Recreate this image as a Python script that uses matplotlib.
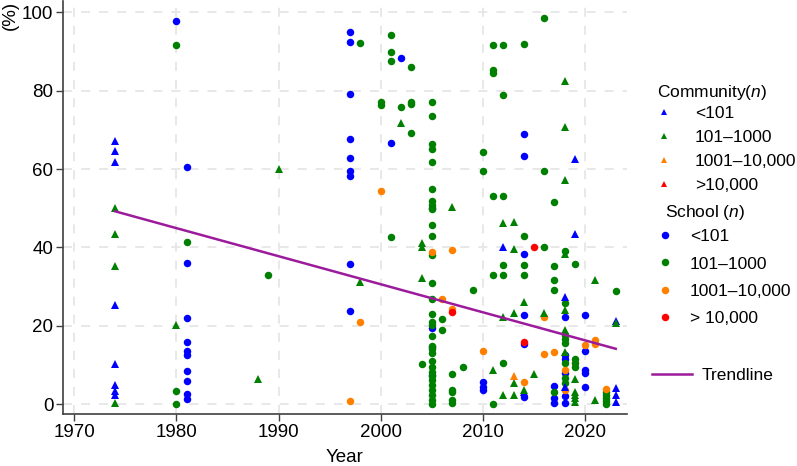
import matplotlib
matplotlib.use("Agg")
import matplotlib.pyplot as plt
from matplotlib.lines import Line2D

plt.rcParams['font.family'] = ['Liberation Sans', 'DejaVu Sans']
plt.rcParams['mathtext.fontset'] = 'custom'
plt.rcParams['mathtext.rm'] = 'Liberation Sans'
plt.rcParams['mathtext.it'] = 'Liberation Sans:italic'

# community surveys (triangles)
comm_lt101_yr = [1974, 1974, 1974, 1974, 1974, 1974, 1974, 1974,
                 2012, 2014, 2018, 2018, 2019, 2019, 2023, 2023, 2023, 2023]
comm_lt101_val = [67.2, 64.7, 61.8, 25.3, 10.3, 4.8, 3.2, 2.3,
                  40.1, 3.0, 27.2, 4.4, 62.6, 43.4, 21.2, 4.2, 2.3, 0.4]

comm_101_yr = [1974, 1974, 1974, 1974, 1980, 1988, 1990, 1998, 2002,
               2004, 2004, 2004, 2007, 2011, 2012, 2012, 2012,
               2013, 2013, 2013, 2013, 2013, 2014, 2014, 2015, 2016,
               2018, 2018, 2018, 2018, 2018, 2018, 2018,
               2019, 2019, 2019, 2019, 2019, 2021, 2021, 2023]
comm_101_val = [50.0, 43.5, 35.3, 0.2, 20.1, 6.4, 60.1, 31.2, 71.7,
                41.2, 40.1, 32.1, 50.3, 8.6, 46.1, 22.1, 2.4,
                46.4, 39.5, 23.3, 5.3, 2.4, 26.1, 3.6, 7.6, 23.3,
                82.6, 70.8, 57.1, 38.3, 24.0, 19.0, 13.3,
                6.4, 3.1, 2.4, 1.5, 0.6, 31.6, 0.9, 20.8]

comm_1001_yr = [2013]
comm_1001_val = [7.2]

comm_10k_yr = []
comm_10k_val = []

# school surveys (circles)
sch_lt101_yr = [1980,
                1981, 1981, 1981, 1981, 1981, 1981, 1981, 1981, 1981, 1981,
                1997, 1997, 1997, 1997, 1997, 1997, 1997, 1997, 1997,
                2001, 2002, 2005, 2005, 2005, 2005, 2010, 2010, 2010,
                2014, 2014, 2014, 2014, 2014, 2014, 2017, 2017, 2017,
                2018, 2018, 2018, 2018, 2018, 2018,
                2020, 2020, 2020, 2020, 2020]
sch_lt101_val = [97.8,
                 60.5, 36.0, 22.0, 15.8, 13.5, 12.5, 8.5, 5.8, 2.5, 1.2,
                 95.0, 92.5, 79.2, 67.7, 62.8, 59.5, 58.3, 35.8, 23.8,
                 66.7, 88.4, 50.0, 19.5, 14.5, 7.5, 5.5, 4.4, 3.6,
                 68.9, 63.2, 38.2, 22.6, 15.2, 1.9, 4.6, 1.6, 0.2,
                 22.1, 12.5, 11.4, 7.8, 2.1, 0.2,
                 22.7, 13.5, 8.8, 8.0, 4.4]

sch_101_yr = [1980, 1980, 1980, 1981, 1989, 1998, 2000, 2000,
              2001, 2001, 2001, 2001, 2002, 2003, 2003, 2003, 2003, 2004,
              2005, 2005, 2005, 2005, 2005, 2005, 2005, 2005, 2005, 2005,
              2005, 2005, 2005, 2005, 2005, 2005, 2005, 2005, 2005, 2005,
              2005, 2005, 2005, 2005, 2005, 2005, 2005, 2005, 2005, 2005, 2005,
              2006, 2006, 2007, 2007, 2007, 2007, 2007, 2008, 2009,
              2010, 2010, 2011, 2011, 2011, 2011, 2011, 2011,
              2012, 2012, 2012, 2012, 2012, 2012, 2014, 2014, 2014, 2014,
              2016, 2016, 2016, 2017, 2017, 2017, 2017, 2017,
              2018, 2018, 2018, 2018, 2018, 2018, 2018, 2018,
              2019, 2019, 2019, 2019, 2022, 2022, 2022, 2022, 2022, 2023]
sch_101_val = [91.7, 3.3, 0.0, 41.3, 32.9, 92.3, 77.1, 76.3,
               94.1, 89.8, 87.5, 42.7, 75.9, 86.1, 77.2, 76.5, 69.3, 10.1,
               77.2, 73.5, 66.4, 65.1, 61.8, 54.8, 51.8, 50.8, 49.9, 45.7,
               42.8, 38.0, 30.8, 26.9, 23.1, 20.9, 20.3, 17.3, 14.9, 14.0,
               12.9, 10.9, 9.5, 8.2, 7.2, 6.1, 4.8, 3.6, 2.3, 1.0, 0.0,
               21.7, 19.0, 7.6, 3.7, 3.0, 1.0, 0.3, 9.4, 29.0,
               64.3, 59.5, 91.7, 85.2, 84.4, 53.1, 32.9, 0.1,
               91.7, 79.0, 53.1, 35.5, 32.9, 10.4, 92.0, 42.9, 35.5, 32.9,
               98.6, 59.6, 40.0, 51.6, 35.3, 31.6, 29.1, 3.0,
               39.1, 25.8, 17.6, 16.7, 15.5, 10.5, 6.6, 5.3,
               35.7, 11.4, 10.4, 9.4, 3.0, 2.2, 1.5, 0.7, 0.0, 28.8]

sch_1001_yr = [1997, 1998, 2000, 2005, 2006, 2007, 2007, 2010, 2014,
               2016, 2016, 2017, 2018, 2018, 2020, 2021, 2021, 2022]
sch_1001_val = [0.8, 20.9, 54.3, 38.9, 26.7, 39.3, 24.2, 13.5, 5.7,
                22.1, 12.8, 13.3, 8.8, 3.6, 15.0, 16.3, 15.3, 3.8]

sch_10k_yr = [2007, 2014, 2015]
sch_10k_val = [23.4, 15.8, 40.0]

trend_yr = [1974, 2023]
trend_val = [49.2, 14.1]

size_labels = ['<101', '101\u20131000', '1001\u201310,000', '>10,000']
school_labels = ['<101', '101\u20131000', '1001\u201310,000', '> 10,000']
colors = ['#0000ff', '#008000', '#ff8000', '#ff0000']
trend_color = '#9c1a9c'

W, H = 797, 466
fig = plt.figure(figsize=(W / 100, H / 100), dpi=100)
ax = fig.add_axes([63 / W, 1 - 414 / H, (627 - 63) / W, 413 / H])

comm_groups = [(comm_lt101_yr, comm_lt101_val), (comm_101_yr, comm_101_val),
               (comm_1001_yr, comm_1001_val), (comm_10k_yr, comm_10k_val)]
sch_groups = [(sch_lt101_yr, sch_lt101_val), (sch_101_yr, sch_101_val),
              (sch_1001_yr, sch_1001_val), (sch_10k_yr, sch_10k_val)]

for (yr, val), c in zip(sch_groups, colors):
    ax.plot(yr, val, ls='', marker='o', ms=5.4, color=c, mew=0, zorder=3)
for (yr, val), c in zip(comm_groups, colors):
    ax.plot(yr, val, ls='', marker='^', ms=5.2, color=c, mew=0, zorder=3)

ax.plot(trend_yr, trend_val, color=trend_color, lw=1.8, zorder=4)

ax.set_xlim(1968.9, 2024.1)
ax.set_ylim(-2.55, 102.9)
ax.set_xticks(range(1970, 2021, 10))
ax.set_yticks(range(0, 101, 20))
ax.grid(True, color='#e6e6e6', ls=(0, (5, 5)), lw=1.3)
ax.set_axisbelow(True)
for s in ['top', 'right']:
    ax.spines[s].set_visible(False)
for s in ['left', 'bottom']:
    ax.spines[s].set_color('#404040')
    ax.spines[s].set_linewidth(1.2)
ax.tick_params(labelsize=13.5, length=5, width=1, color='#404040', pad=2)
ax.set_xlabel('Year', fontsize=13.5, labelpad=6)
ax.set_ylabel('(%)', fontsize=13.5, loc='top', labelpad=2)

tri_h = [Line2D([], [], ls='', marker='^', ms=5, mew=0, color=c) for c in colors]
dot_h = [Line2D([], [], ls='', marker='o', ms=5.4, mew=0, color=c) for c in colors]
line_h = [Line2D([], [], color=trend_color, lw=1.8)]

fs = 12.5
fig.text(657 / W, 1 - 92.7 / H, 'Community$(n)$', fontsize=fs, va='center', ha='left')
fig.text(665 / W, 1 - 213 / H, 'School $(n)$', fontsize=fs, va='center', ha='left')

common = dict(frameon=False, fontsize=fs, borderpad=0, borderaxespad=0,
              handlelength=1.0, loc='center left')
leg1 = fig.legend(tri_h, size_labels, labelspacing=0.52, handletextpad=1.29,
                  bbox_to_anchor=(655.3 / W, 1 - 149.5 / H), **common)
leg2 = fig.legend(dot_h, school_labels, labelspacing=0.69, handletextpad=0.94,
                  bbox_to_anchor=(656.3 / W, 1 - 277.5 / H), **common)
leg3 = fig.legend(line_h, ['Trendline'], frameon=False, fontsize=fs, borderpad=0,
                  borderaxespad=0, handlelength=2.3, handletextpad=0.55,
                  loc='center left', bbox_to_anchor=(652 / W, 1 - 375 / H))

fig.savefig('out.png', dpi=100, facecolor='white')
